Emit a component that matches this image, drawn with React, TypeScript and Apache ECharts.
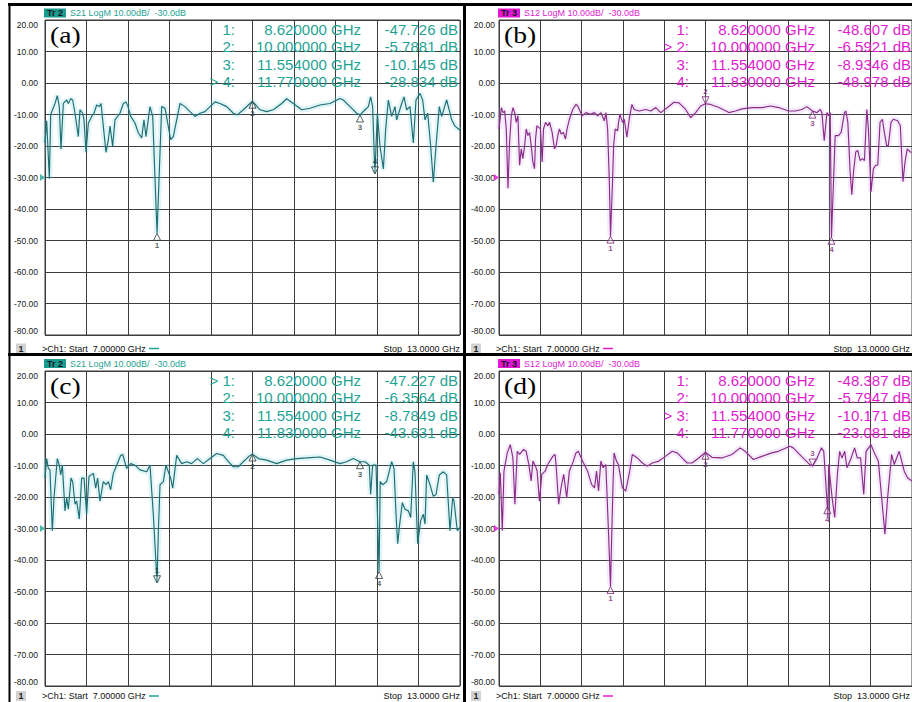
import React, { useEffect, useRef } from "react";
import * as echarts from "echarts";

// ---------- axis settings ----------
const FREQ_START_GHZ = 7;
const FREQ_STOP_GHZ = 13;
const DB_MIN = -80;
const DB_MAX = 20;
const DB_STEP = 10;
const REF_LEVEL_DB = -30;
const DIVISIONS = 10;

// ---------- trace (a) S21 ----------
const freqA = [7.000, 7.024, 7.063, 7.082, 7.145, 7.178, 7.207, 7.231, 7.265, 7.313, 7.337, 7.371, 7.400, 7.434, 7.482, 7.506, 7.545, 7.564, 7.593, 7.627, 7.675, 7.708, 7.747, 7.786, 7.810, 7.843, 7.882, 7.916, 7.940, 7.978, 8.012, 8.084, 8.133, 8.171, 8.200, 8.239, 8.301, 8.349, 8.398, 8.431, 8.460, 8.518, 8.557, 8.620, 8.687, 8.735, 8.817, 8.855, 8.904, 8.952, 9.024, 9.096, 9.169, 9.241, 9.313, 9.386, 9.458, 9.530, 9.627, 9.723, 9.781, 9.867, 9.964, 10.000, 10.108, 10.205, 10.301, 10.422, 10.494, 10.590, 10.711, 10.831, 10.976, 11.120, 11.265, 11.313, 11.410, 11.506, 11.554, 11.627, 11.675, 11.708, 11.737, 11.770, 11.805, 11.843, 11.892, 11.925, 11.964, 12.012, 12.060, 12.084, 12.157, 12.190, 12.229, 12.277, 12.325, 12.364, 12.422, 12.460, 12.494, 12.533, 12.576, 12.614, 12.653, 12.701, 12.735, 12.807, 12.880, 12.928, 13.000];
const dbA = [-19, -12, -30.4, -10, -6.5, -4, -7.5, -21, -6.5, -5.4, -6.5, -5, -5.4, -9.6, -17, -8.5, -9.6, -11.7, -22, -12.7, -10.6, -9.6, -7, -7.5, -6.5, -13.7, -22, -18, -13.7, -20, -11.7, -9.6, -6.5, -6, -7.5, -10.6, -12.7, -15.8, -17.4, -11.7, -17, -7.5, -10.6, -47.7, -7.5, -8, -18, -17, -11.7, -6.5, -7.5, -9.1, -10.6, -9.6, -9.1, -7.5, -6, -6.5, -7.5, -9.6, -10.1, -8.5, -6.5, -5.8, -8.5, -9.1, -8.5, -6.5, -5, -6.5, -8.5, -8, -7, -6.5, -4.9, -5.4, -7.5, -9.6, -10.1, -8.5, -7.5, -4.4, -7.5, -28.8, -9.6, -20, -27.3, -14.8, -5.4, -10.6, -7.5, -11.7, -6.5, -4.4, -8.5, -7.5, -19, -5.4, -3.3, -5.4, -11.7, -9.6, -20, -31.5, -20, -7.5, -10.6, -5.4, -11.7, -13.7, -15];

// ---------- trace (b) S12 ----------
const freqB = [7.000, 7.034, 7.058, 7.082, 7.106, 7.130, 7.154, 7.179, 7.203, 7.227, 7.251, 7.275, 7.299, 7.323, 7.347, 7.372, 7.396, 7.420, 7.444, 7.468, 7.492, 7.516, 7.531, 7.550, 7.579, 7.603, 7.627, 7.647, 7.676, 7.709, 7.734, 7.772, 7.806, 7.830, 7.854, 7.878, 7.903, 7.936, 7.965, 7.989, 8.023, 8.071, 8.120, 8.144, 8.207, 8.264, 8.327, 8.385, 8.433, 8.482, 8.530, 8.554, 8.578, 8.602, 8.620, 8.651, 8.665, 8.689, 8.723, 8.737, 8.757, 8.795, 8.820, 8.858, 8.892, 8.931, 8.964, 9.037, 9.133, 9.206, 9.278, 9.350, 9.447, 9.543, 9.616, 9.712, 9.785, 9.857, 9.929, 10.000, 10.074, 10.195, 10.340, 10.436, 10.533, 10.678, 10.822, 10.943, 11.064, 11.208, 11.305, 11.402, 11.474, 11.554, 11.619, 11.667, 11.691, 11.725, 11.764, 11.788, 11.812, 11.830, 11.884, 11.932, 11.971, 12.019, 12.039, 12.068, 12.101, 12.126, 12.150, 12.183, 12.212, 12.246, 12.280, 12.309, 12.344, 12.367, 12.405, 12.439, 12.473, 12.502, 12.536, 12.570, 12.598, 12.632, 12.656, 12.695, 12.729, 12.792, 12.830, 12.869, 12.898, 12.931, 12.975, 13.000];
const dbB = [-14.6, -7.8, -9.4, -8.9, -14.6, -33.4, -18.8, -10.4, -7.8, -9.4, -12.5, -10.4, -26.1, -20.9, -24.0, -19.9, -14.6, -16.7, -15.7, -19.9, -25.1, -27.2, -17.8, -13.6, -14.1, -14.6, -25.1, -14.6, -12.5, -13.6, -12.5, -15.7, -20.9, -19.9, -16.7, -14.6, -16.2, -15.7, -17.8, -14.6, -11.5, -8.4, -6.8, -7.3, -10.4, -9.4, -9.9, -9.4, -10.4, -9.4, -12.0, -9.4, -14.6, -30.3, -48.6, -30.3, -19.9, -14.6, -15.2, -12.5, -9.9, -12.5, -11.5, -17.2, -11.5, -6.8, -8.4, -8.9, -8.4, -8.9, -7.8, -9.4, -7.8, -6.1, -6.3, -8.4, -11.0, -9.4, -7.3, -6.6, -6.8, -7.8, -9.4, -8.9, -8.2, -7.8, -7.8, -7.3, -7.8, -8.9, -8.9, -8.4, -7.5, -8.9, -9.4, -8.4, -9.4, -18.3, -9.4, -10.4, -9.4, -49.0, -16.7, -16.7, -15.7, -9.4, -8.9, -12.5, -28.2, -35.5, -28.2, -21.9, -21.4, -24.6, -24.0, -24.6, -8.4, -14.6, -34.5, -27.2, -26.1, -26.1, -12.5, -11.5, -15.7, -19.9, -19.9, -12.5, -11.5, -12.0, -13.6, -31.3, -25.1, -20.9, -21.9, -22.0];

// ---------- trace (c) S21 ----------
const freqC = [7.000, 7.024, 7.048, 7.072, 7.106, 7.130, 7.178, 7.207, 7.227, 7.251, 7.289, 7.313, 7.337, 7.376, 7.400, 7.434, 7.458, 7.496, 7.530, 7.564, 7.602, 7.636, 7.699, 7.733, 7.761, 7.795, 7.843, 7.882, 7.916, 7.949, 7.988, 8.036, 8.094, 8.123, 8.181, 8.239, 8.301, 8.373, 8.470, 8.518, 8.566, 8.620, 8.639, 8.663, 8.711, 8.749, 8.783, 8.817, 8.846, 8.904, 8.976, 9.048, 9.120, 9.202, 9.289, 9.386, 9.482, 9.578, 9.651, 9.723, 9.795, 9.867, 9.964, 10.000, 10.084, 10.205, 10.349, 10.494, 10.639, 10.783, 10.976, 11.120, 11.265, 11.361, 11.458, 11.554, 11.627, 11.689, 11.708, 11.737, 11.786, 11.830, 11.846, 11.882, 11.940, 12.012, 12.046, 12.075, 12.099, 12.128, 12.166, 12.205, 12.253, 12.287, 12.325, 12.349, 12.388, 12.431, 12.470, 12.494, 12.518, 12.566, 12.614, 12.653, 12.701, 12.759, 12.807, 12.855, 12.894, 12.913, 12.961, 13.000];
const dbC = [-14.0, -7.8, -10.9, -11.4, -30.7, -20.3, -7.8, -9.9, -13.0, -9.9, -24.4, -20.3, -23.9, -14.0, -15.1, -22.3, -21.3, -27.0, -14.0, -14.0, -25.5, -13.5, -12.5, -17.2, -14.0, -21.3, -15.1, -16.1, -15.1, -17.7, -12.5, -9.9, -6.8, -6.5, -10.9, -9.4, -9.9, -11.4, -12.0, -9.9, -25.5, -47.2, -30.7, -16.1, -15.1, -9.9, -12.0, -14.0, -17.2, -6.8, -9.4, -8.8, -9.4, -7.8, -9.4, -7.8, -6.2, -6.8, -8.8, -10.4, -10.4, -8.8, -6.8, -6.4, -7.8, -8.3, -9.4, -8.3, -7.8, -7.6, -7.3, -8.3, -9.4, -8.8, -7.8, -8.8, -8.8, -9.9, -19.2, -9.9, -9.9, -43.6, -15.1, -16.1, -15.1, -8.8, -10.9, -25.5, -34.8, -28.6, -21.8, -23.9, -24.4, -26.5, -8.8, -12.0, -34.8, -27.5, -25.5, -28.6, -13.0, -16.1, -19.8, -19.2, -13.0, -12.0, -13.0, -30.7, -20.3, -21.3, -30.7, -29.6];

// ---------- trace (d) S12 ----------
const freqD = [7.000, 7.019, 7.048, 7.072, 7.120, 7.164, 7.202, 7.231, 7.265, 7.299, 7.357, 7.395, 7.434, 7.467, 7.492, 7.530, 7.554, 7.588, 7.622, 7.670, 7.708, 7.781, 7.814, 7.829, 7.867, 7.901, 7.940, 7.983, 8.022, 8.080, 8.118, 8.152, 8.214, 8.287, 8.345, 8.388, 8.417, 8.446, 8.480, 8.513, 8.552, 8.590, 8.620, 8.639, 8.658, 8.672, 8.706, 8.735, 8.793, 8.841, 8.899, 8.937, 9.010, 9.082, 9.154, 9.227, 9.323, 9.419, 9.516, 9.588, 9.660, 9.733, 9.805, 9.901, 10.000, 10.093, 10.239, 10.383, 10.504, 10.576, 10.696, 10.817, 10.961, 11.058, 11.227, 11.275, 11.395, 11.516, 11.554, 11.612, 11.684, 11.718, 11.770, 11.778, 11.790, 11.839, 11.877, 11.916, 11.949, 11.983, 12.022, 12.055, 12.108, 12.166, 12.205, 12.253, 12.299, 12.333, 12.405, 12.453, 12.511, 12.559, 12.607, 12.646, 12.704, 12.742, 12.814, 12.887, 12.935, 13.000];
const dbD = [-19.2, -12.3, -30.7, -11.8, -6.0, -3.4, -7.6, -22.3, -5.5, -6.5, -4.9, -5.5, -9.7, -14.9, -8.6, -10.2, -11.8, -21.3, -12.8, -11.8, -9.7, -7.1, -6.5, -9.7, -22.3, -17.1, -12.8, -20.2, -11.8, -8.6, -6.0, -5.5, -8.6, -11.8, -16.0, -17.1, -11.8, -18.1, -8.6, -10.7, -9.7, -30.7, -48.4, -30.7, -14.9, -6.0, -8.6, -9.7, -17.1, -18.1, -11.8, -6.5, -7.6, -9.2, -10.2, -9.2, -8.6, -7.1, -5.5, -6.0, -7.6, -9.2, -9.2, -7.6, -5.8, -7.4, -7.6, -6.5, -4.4, -5.5, -8.1, -7.1, -6.0, -5.5, -3.9, -4.4, -7.1, -9.7, -10.2, -8.1, -4.4, -5.5, -23.1, -26.5, -9.7, -20.2, -26.5, -12.8, -5.5, -7.6, -5.5, -10.7, -8.1, -4.4, -7.6, -7.6, -19.2, -5.5, -3.4, -6.0, -8.6, -20.2, -31.8, -20.2, -6.5, -9.7, -5.5, -11.8, -13.9, -14.9];

// ---------- markers ----------
const markerFreqA = [8.62, 10.0, 11.554, 11.77];
const markerDbA = [-47.726, -5.7881, -10.145, -28.834];
const markerFreqB = [8.62, 10.0, 11.554, 11.83];
const markerDbB = [-48.607, -6.5921, -8.9346, -48.978];
const markerFreqC = [8.62, 10.0, 11.554, 11.83];
const markerDbC = [-47.227, -6.3564, -8.7849, -43.631];
const markerFreqD = [8.62, 10.0, 11.554, 11.77];
const markerDbD = [-48.387, -5.7947, -10.171, -23.081];
const activeMarkers = [4, 2, 1, 3];

const panelTags = ["(a)", "(b)", "(c)", "(d)"];
const traceNames = ["Tr 2", "Tr 3", "Tr 2", "Tr 3"];
const paramNames = ["S21", "S12", "S21", "S12"];

// ---------- styling ----------
const THEMES: Record<string, any> = {
  teal: {
    trace: "#1d6e71",
    text: "#1fa394",
    box: "#1b9b8d",
    glow: "rgba(120,205,220,0.22)",
    marker: "#2b3b3b",
    ref: "#1fa394",
  },
  magenta: {
    trace: "#8a2c86",
    text: "#e01ccf",
    box: "#e516d2",
    glow: "rgba(205,160,235,0.22)",
    marker: "#7a2272",
    ref: "#e516d2",
  },
};

const GRID_COLOR = "#3d3d3d";
const SANS = '"Liberation Sans", Arial, sans-serif';
const SERIF = '"Liberation Serif", "Times New Roman", serif';
const PLOT_W = 415;
const PLOT_H = 315;
const PAGE_W = 912;

const LAYOUT = [
  { left: 45, top: 20, frameLeft: 9, headerY: 13, statusY: 348.5, labelMargin: 7 },
  { left: 499, top: 20, frameLeft: 464, headerY: 13, statusY: 348.5, labelMargin: 4 },
  { left: 45, top: 371, frameLeft: 9, headerY: 363.5, statusY: 696, labelMargin: 7 },
  { left: 499, top: 371, frameLeft: 464, headerY: 363.5, statusY: 696, labelMargin: 4 },
];

const PANEL_DATA = [
  { freq: freqA, db: dbA, mf: markerFreqA, md: markerDbA, theme: "teal" },
  { freq: freqB, db: dbB, mf: markerFreqB, md: markerDbB, theme: "magenta" },
  { freq: freqC, db: dbC, mf: markerFreqC, md: markerDbC, theme: "teal" },
  { freq: freqD, db: dbD, mf: markerFreqD, md: markerDbD, theme: "magenta" },
];

function txt(x: number, y: number, text: string, font: string, fill: string, align: string, extra: any = {}) {
  return {
    type: "text",
    x,
    y,
    z: 100,
    silent: true,
    ...extra,
    style: {
      text,
      font,
      fill,
      align,
      textAlign: align,
      verticalAlign: "middle",
      textVerticalAlign: "middle",
    },
  };
}

function buildOption() {
  const grid: any[] = [];
  const xAxis: any[] = [];
  const yAxis: any[] = [];
  const series: any[] = [];
  const graphic: any[] = [];

  PANEL_DATA.forEach((p, i) => {
    const L = LAYOUT[i];
    const th = THEMES[p.theme];
    const active = activeMarkers[i] - 1;

    grid.push({
      left: L.left,
      top: L.top,
      width: PLOT_W,
      height: PLOT_H,
      show: true,
      borderColor: GRID_COLOR,
      borderWidth: 1,
      backgroundColor: "transparent",
    });

    // division grid axis
    xAxis.push({
      gridIndex: i,
      type: "value",
      min: 0,
      max: DIVISIONS,
      interval: 1,
      axisLine: { show: false },
      axisTick: { show: false },
      axisLabel: { show: false },
      splitLine: { show: true, lineStyle: { color: GRID_COLOR, width: 1 } },
    });
    // frequency data axis
    xAxis.push({
      gridIndex: i,
      type: "value",
      min: FREQ_START_GHZ,
      max: FREQ_STOP_GHZ,
      show: false,
    });
    yAxis.push({
      gridIndex: i,
      type: "value",
      min: DB_MIN,
      max: DB_MAX,
      interval: DB_STEP,
      axisLine: { show: false },
      axisTick: { show: false },
      splitLine: { show: true, lineStyle: { color: GRID_COLOR, width: 1 } },
      axisLabel: {
        margin: L.labelMargin,
        fontSize: 8.5,
        fontFamily: SANS,
        color: "#1a1a1a",
        formatter: (v: number) => v.toFixed(2),
        verticalAlignMaxLabel: "top",
        verticalAlignMinLabel: "bottom",
      },
    });

    const xi = 2 * i + 1;
    const pts = p.freq.map((f, k) => [f, p.db[k]]);

    series.push({
      type: "line",
      xAxisIndex: xi,
      yAxisIndex: i,
      data: pts,
      showSymbol: false,
      silent: true,
      lineStyle: { color: th.glow, width: 6 },
      z: 1,
    });
    series.push({
      type: "line",
      xAxisIndex: xi,
      yAxisIndex: i,
      data: pts,
      showSymbol: false,
      silent: true,
      lineStyle: { color: th.trace, width: 1.15 },
      z: 2,
    });
    // markers
    series.push({
      type: "scatter",
      xAxisIndex: xi,
      yAxisIndex: i,
      silent: true,
      clip: false,
      z: 3,
      symbolSize: [7, 7],
      itemStyle: { color: "rgba(255,255,255,0.35)", borderColor: th.marker, borderWidth: 1 },
      label: { show: true, color: th.marker, fontSize: 8, fontWeight: "bold", fontFamily: SANS },
      data: p.mf.map((f, j) => {
        const act = j === active;
        return {
          value: [f, p.md[j]],
          symbol: act ? "path://M0,0L10,0L5,10Z" : "triangle",
          symbolOffset: act ? [0, -3.5] : [0, 3.5],
          label: { position: act ? "top" : "bottom", distance: 1, formatter: String(j + 1) },
        };
      }),
    });
    // reference level marker
    series.push({
      type: "scatter",
      xAxisIndex: xi,
      yAxisIndex: i,
      silent: true,
      clip: false,
      z: 4,
      symbol: "path://M0,0L10,5L0,10Z",
      symbolSize: [5, 7],
      symbolOffset: [-2.5, 0],
      itemStyle: { color: th.ref },
      data: [[FREQ_START_GHZ, REF_LEVEL_DB]],
    });

    // header
    graphic.push({
      type: "rect",
      z: 99,
      silent: true,
      shape: { x: L.left - 1, y: L.headerY - 4.5, width: 22, height: 9 },
      style: { fill: th.box },
    });
    graphic.push(txt(L.left + 10, L.headerY, traceNames[i], `bold 9px ${SANS}`, "#121826", "center"));
    graphic.push(
      txt(
        L.left + 25,
        L.headerY,
        `${paramNames[i]} LogM ${DB_STEP.toFixed(2)}dB/\u00a0 ${REF_LEVEL_DB.toFixed(1)}dB`,
        `9px ${SANS}`,
        th.text,
        "left"
      )
    );

    // panel tag
    graphic.push(
      txt(L.left + 5, L.top + 15, panelTags[i], `24px ${SERIF}`, "#000", "left", { scaleX: 1.15 })
    );

    // marker table
    p.mf.forEach((f, j) => {
      const y = L.top + 9.3 + j * 17.4;
      const font = `15px ${SANS}`;
      graphic.push(txt(L.left + 190, y, `${j === active ? "> " : ""}${j + 1}:`, font, th.text, "right"));
      graphic.push(txt(L.left + 316, y, `${f.toFixed(6)} GHz`, font, th.text, "right"));
      graphic.push(txt(Math.min(L.left + 413, PAGE_W - 1), y, `${p.md[j].toPrecision(5)} dB`, font, th.text, "right"));
    });

    // status bar
    graphic.push({
      type: "rect",
      z: 99,
      silent: true,
      shape: { x: L.frameLeft + 7, y: L.statusY - 5, width: 10, height: 10 },
      style: { fill: "#d2d2d2" },
    });
    graphic.push(txt(L.frameLeft + 12, L.statusY, "1", `bold 9px ${SANS}`, "#222", "center"));
    graphic.push(
      txt(
        L.left - 3,
        L.statusY,
        `>Ch1: Start\u00a0 ${FREQ_START_GHZ.toFixed(5)} GHz`,
        `9px ${SANS}`,
        "#111",
        "left"
      )
    );
    graphic.push({
      type: "line",
      z: 100,
      silent: true,
      shape: { x1: L.left + 104, y1: L.statusY, x2: L.left + 114, y2: L.statusY },
      style: { stroke: th.text, lineWidth: 1.5 },
    });
    graphic.push(
      txt(
        Math.min(L.left + 415, PAGE_W - 2),
        L.statusY,
        `Stop\u00a0 ${FREQ_STOP_GHZ.toFixed(4)} GHz`,
        `9px ${SANS}`,
        "#111",
        "right"
      )
    );
  });

  // frame lines
  const frame = (x1: number, y1: number, x2: number, y2: number, w: number) => ({
    type: "line",
    z: 110,
    silent: true,
    shape: { x1, y1, x2, y2 },
    style: { stroke: "#000", lineWidth: w },
  });
  graphic.push(frame(8, 4.5, 912, 4.5, 3));
  graphic.push(frame(9.5, 3, 9.5, 702, 2));
  graphic.push(frame(464.5, 3, 464.5, 702, 3));
  graphic.push(frame(8, 354.5, 912, 354.5, 3));

  return {
    animation: false,
    backgroundColor: "#ffffff",
    grid,
    xAxis,
    yAxis,
    series,
    graphic: { elements: graphic },
  };
}

export default function App() {
  const ref = useRef<HTMLDivElement>(null);
  useEffect(() => {
    document.body.style.margin = "0";
    if (!ref.current) return;
    const chart = echarts.init(ref.current, undefined, { renderer: "svg" });
    chart.setOption(buildOption() as any);
    return () => chart.dispose();
  }, []);
  return (
    <div
      ref={ref}
      style={{ position: "absolute", left: 0, top: 0, width: 912, height: 702, background: "#fff" }}
    />
  );
}
